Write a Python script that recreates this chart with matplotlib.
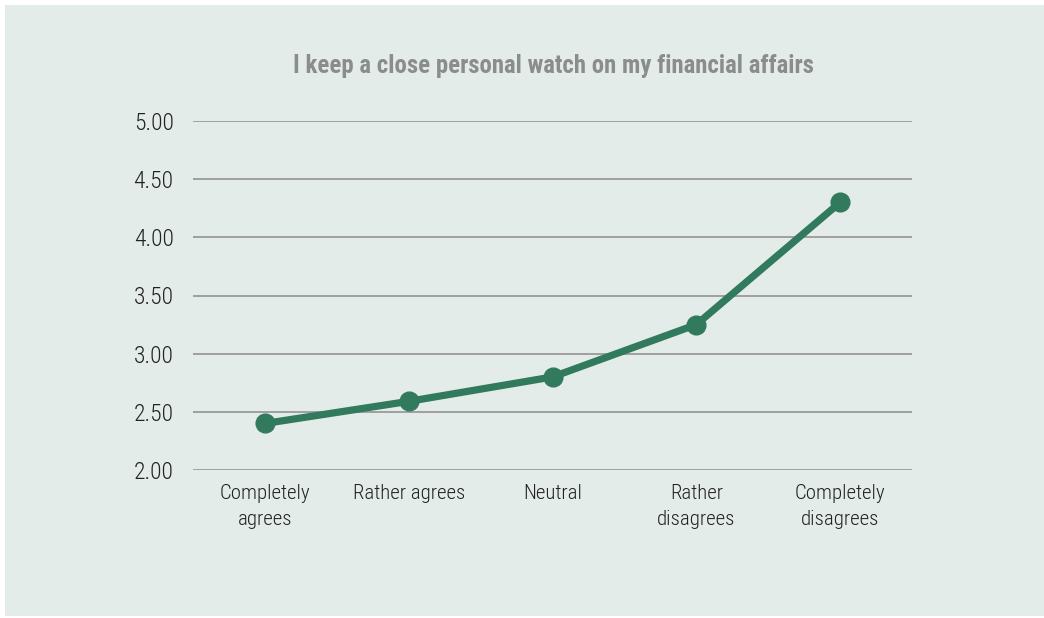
import matplotlib
matplotlib.use("Agg")
import matplotlib.pyplot as plt
from matplotlib.patches import Rectangle
from matplotlib import font_manager

# Data
categories = ["Completely\nagrees", "Rather agrees", "Neutral", "Rather\ndisagrees", "Completely\ndisagrees"]
scores = [2.40, 2.59, 2.80, 3.25, 4.30]
yticks = [2.00, 2.50, 3.00, 3.50, 4.00, 4.50, 5.00]
title = "I keep a close personal watch on my financial affairs"

# Prefer a narrow sans face if one is installed
installed = {f.name for f in font_manager.fontManager.ttflist}
family = "DejaVu Sans"
for cand in ["Liberation Sans Narrow", "Roboto Condensed", "Open Sans Condensed",
             "Noto Sans Condensed", "DejaVu Sans Condensed"]:
    if cand in installed:
        family = cand
        break
plt.rcParams["font.family"] = [family, "DejaVu Sans"]
plt.rcParams["font.stretch"] = "condensed"

W, H = 1044, 618
fig = plt.figure(figsize=(W / 100, H / 100), dpi=100, facecolor="white")

bg = "#e4ece9"
fig.patches.append(Rectangle((5 / W, 2 / H), (W - 5) / W, (H - 7) / H,
                             transform=fig.transFigure, facecolor=bg,
                             edgecolor="none", zorder=-10))

ax = fig.add_axes([193 / W, 1 - 470 / H, (912 - 193) / W, (470 - 121) / H])
ax.set_zorder(1)
ax.set_facecolor("none")

x = list(range(len(categories)))
ax.plot(x, scores, color="#317a5e", lw=5.2, marker="o", ms=13.5,
        solid_capstyle="round", zorder=3, clip_on=False)

ax.set_xlim(-0.5, len(categories) - 0.5)
ax.set_ylim(2.0, 5.0)
ax.set_yticks(yticks)
ax.set_yticklabels([f"{v:.2f}" for v in yticks], fontweight="light")
ax.set_xticks(x)
ax.set_xticklabels(categories, linespacing=1.5, fontweight="light")

ax.yaxis.grid(True, color="#999999", lw=1.3)
ax.set_axisbelow(True)
for s in ax.spines.values():
    s.set_visible(False)
ax.tick_params(axis="both", length=0, colors="#222222")
ax.tick_params(axis="y", labelsize=17, pad=14)
ax.tick_params(axis="x", labelsize=15, pad=10)

fig.text(553 / W, 1 - 66 / H, title, ha="center", va="center",
         fontsize=17.8, fontweight="bold", color="#8a8c8e", zorder=5)

fig.savefig("out.png", dpi=100, facecolor="white")
